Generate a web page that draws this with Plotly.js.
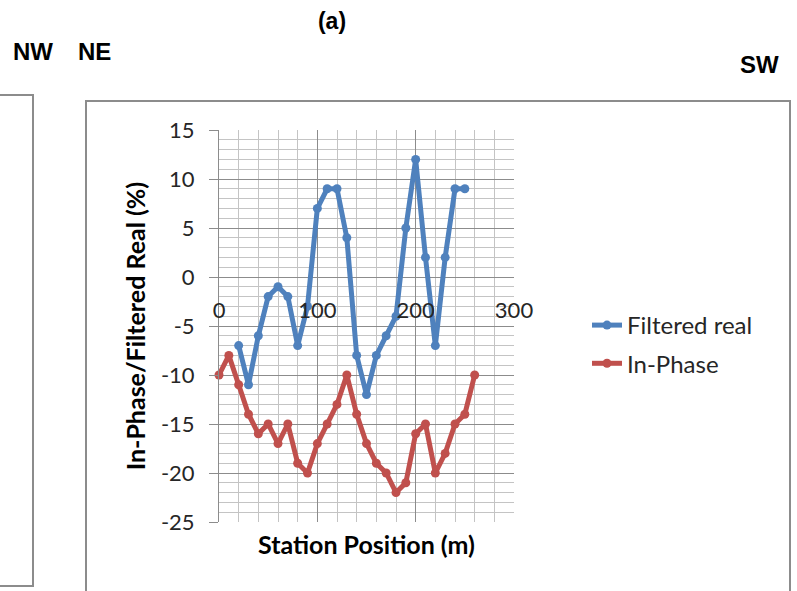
<!DOCTYPE html>
<html>
<head>
<meta charset="utf-8">
<script src="https://cdn.plot.ly/plotly-3.0.1.min.js"></script>
<style>html,body{margin:0;padding:0;background:#fff;}#chart{width:797px;height:591px;}</style>
</head>
<body>
<div id="chart"></div>
<script>
// Data
const filteredX = [20,30,40,50,60,70,80,90,100,110,120,130,140,150,160,170,180,190,200,210,220,230,240,250];
const filteredReal = [-7,-11,-6,-2,-1,-2,-7,-3,7,9,9,4,-8,-12,-8,-6,-4,5,12,2,-7,2,9,9];
const inPhaseX = [0,10,20,30,40,50,60,70,80,90,100,110,120,130,140,150,160,170,180,190,200,210,220,230,240,250,260];
const inPhase = [-10,-8,-11,-14,-16,-15,-17,-15,-19,-20,-17,-15,-13,-10,-14,-17,-19,-20,-22,-21,-16,-15,-20,-18,-15,-14,-10];
const xTicks = [0,100,200,300];
const yTicks = [-25,-20,-15,-10,-5,0,5,10,15];

// plot area in pixels
const L = 219, R = 514, T = 130, B = 522, W = 797, H = 591;
const px = v => (v - L) / (R - L);
const py = v => (B - v) / (B - T);

const fontFam = 'Lato, "Open Sans", "DejaVu Sans", sans-serif';
const headFam = '"Liberation Sans", Arial, sans-serif';

const traces = [
  {x: filteredX, y: filteredReal, name: 'Filtered real', type: 'scatter', mode: 'lines+markers',
   line: {color: '#4f81bd', width: 5}, marker: {color: '#4f81bd', size: 9}, legendgroup: 'a', cliponaxis: false},
  {x: inPhaseX, y: inPhase, name: 'In-Phase', type: 'scatter', mode: 'lines+markers',
   line: {color: '#c0504d', width: 5}, marker: {color: '#c0504d', size: 9}, legendgroup: 'b', cliponaxis: false}
];

const layout = {
  width: W, height: H,
  margin: {l: L, r: W - R, t: T, b: H - B},
  paper_bgcolor: '#ffffff', plot_bgcolor: '#ffffff',
  showlegend: true,
  title: {text: '<b>(a)</b>', font: {family: headFam, size: 23, color: '#000'},
          x: 332 / W, xref: 'container', y: 1 - 21 / H, yref: 'container', xanchor: 'center', yanchor: 'middle'},
  xaxis: {
    range: [0, 300], anchor: 'free', position: py(277),
    tickmode: 'array', tickvals: xTicks, ticktext: xTicks.map(String),
    ticks: '', showline: false, zeroline: false,
    showgrid: true, gridcolor: '#8c8c8c', gridwidth: 1,
    minor: {dtick: 20, showgrid: true, gridcolor: '#c4c4c4', gridwidth: 1, ticks: ''},
    tickfont: {family: fontFam, size: 22, color: '#262626'},
    ticklabelstandoff: 18
  },
  yaxis: {
    range: [-25, 15], tickmode: 'array', tickvals: yTicks, ticktext: yTicks.map(String),
    ticks: 'outside', ticklen: 9, tickcolor: '#8c8c8c', tickwidth: 1,
    showline: true, linecolor: '#8c8c8c', linewidth: 1, zeroline: false,
    showgrid: true, gridcolor: '#8c8c8c', gridwidth: 1,
    minor: {dtick: 1, showgrid: true, gridcolor: '#c4c4c4', gridwidth: 1, ticks: ''},
    tickfont: {family: fontFam, size: 22, color: '#262626'},
    ticklabelstandoff: 10,
    title: {text: '<b>In-Phase/Filtered Real (%)</b>', font: {family: fontFam, size: 25, color: '#000'}, standoff: 8}
  },
  legend: {
    x: px(587), y: py(303), xanchor: 'left', yanchor: 'top',
    font: {family: fontFam, size: 24, color: '#262626'},
    bgcolor: 'rgba(0,0,0,0)', traceorder: 'grouped', tracegroupgap: 4
  },
  annotations: [
    {text: '<b>Station Position (m)</b>', x: 366 / W, y: 1 - 544 / H, showarrow: false,
     font: {family: fontFam, size: 25, color: '#000'}, xanchor: 'center', yanchor: 'middle'},
    {text: '<b>NW</b>', x: 33 / W, y: 1 - 52 / H, showarrow: false,
     font: {family: headFam, size: 24, color: '#000'}, xanchor: 'center', yanchor: 'middle'},
    {text: '<b>NE</b>', x: 94 / W, y: 1 - 52 / H, showarrow: false,
     font: {family: headFam, size: 24, color: '#000'}, xanchor: 'center', yanchor: 'middle'},
    {text: '<b>SW</b>', x: 759 / W, y: 1 - 65 / H, showarrow: false,
     font: {family: headFam, size: 24, color: '#000'}, xanchor: 'center', yanchor: 'middle'}
  ],
  shapes: [
    {type: 'rect', xref: 'paper', yref: 'paper', x0: px(-6), x1: px(33), y0: py(586), y1: py(95),
     line: {color: '#8c8c8c', width: 2}, fillcolor: 'rgba(0,0,0,0)', layer: 'below'},
    {type: 'rect', xref: 'paper', yref: 'paper', x0: px(86), x1: px(790), y0: py(600), y1: py(101),
     line: {color: '#8c8c8c', width: 2}, fillcolor: 'rgba(0,0,0,0)', layer: 'below'}
  ]
};

// annotations: convert container fractions to plot-area paper coords
layout.annotations.forEach(a => {
  const cx = a.x * W, cy = (1 - a.y) * H;
  a.xref = 'paper'; a.yref = 'paper';
  a.x = px(cx); a.y = py(cy);
});

Plotly.newPlot('chart', traces, layout, {displayModeBar: false, staticPlot: true});
</script>
</body>
</html>
